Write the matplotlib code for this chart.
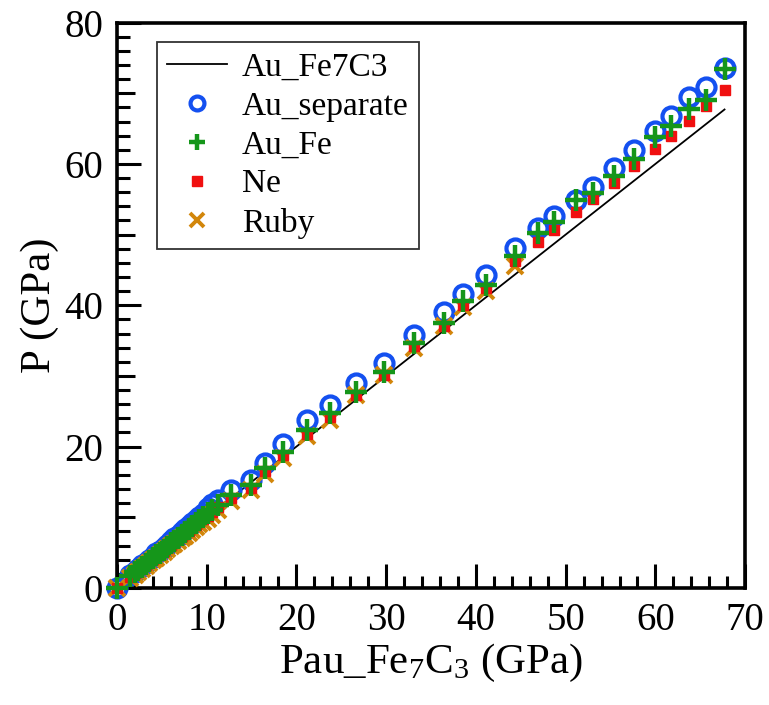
import matplotlib
matplotlib.use("Agg")
import matplotlib.pyplot as plt
from matplotlib.ticker import MultipleLocator

plt.rcParams['font.family'] = ['Liberation Serif', 'DejaVu Serif']
plt.rcParams['mathtext.fontset'] = 'custom'
plt.rcParams['mathtext.rm'] = 'Liberation Serif'
plt.rcParams['mathtext.it'] = 'Liberation Serif:italic'

# Pau_Fe7C3 pressures (GPa), shared x for every series
p_au_fe7c3 = [0.0, 1.5, 2.0, 2.4, 2.8, 3.2, 3.6, 4.0, 4.4, 4.8, 5.2, 5.6, 6.0,
              6.4, 6.8, 7.2, 7.6, 8.0, 8.4, 8.8, 9.2, 9.6,
              10.1, 10.6, 11.3, 12.7, 14.9, 16.5, 18.5, 21.2, 23.7,
              26.6, 29.8, 33.1, 36.4, 38.6, 41.1, 44.4, 46.9, 48.7, 51.2,
              53.0, 55.4, 57.6, 60.0, 61.7, 63.7, 65.6, 67.7]

p_au_separate = [0.0, 1.8, 2.3, 2.7, 3.2, 3.6, 4.0, 4.4, 4.9, 5.3, 5.7, 6.1, 6.6,
                 7.0, 7.4, 7.9, 8.3, 8.8, 9.2, 9.6, 10.1, 10.5,
                 11.3, 11.9, 12.5, 13.8, 15.3, 17.7, 20.4, 23.8, 25.9,
                 29.0, 31.8, 35.8, 39.1, 41.6, 44.3, 48.1, 50.9, 52.7, 54.9,
                 56.8, 59.4, 62.0, 64.6, 66.8, 69.4, 70.9, 73.5]

p_au_fe = [0.0, 1.7, 2.2, 2.6, 3.0, 3.4, 3.8, 4.2, 4.6, 5.0, 5.4, 5.8, 6.3,
           6.7, 7.1, 7.5, 7.9, 8.4, 8.8, 9.2, 9.6, 10.0,
           10.6, 11.1, 11.8, 13.2, 14.6, 17.0, 19.3, 22.4, 24.7,
           27.7, 30.6, 34.7, 37.5, 40.6, 42.9, 46.9, 50.2, 51.8, 54.9,
           55.9, 58.3, 60.7, 63.8, 65.3, 67.7, 69.0, 73.4]

p_ne = [0.0, 1.6, 2.1, 2.5, 2.9, 3.3, 3.7, 4.1, 4.5, 4.9, 5.3, 5.7, 6.1,
        6.5, 6.9, 7.3, 7.7, 8.1, 8.5, 8.9, 9.3, 9.7,
        10.2, 10.7, 11.4, 12.7, 14.2, 16.5, 18.8, 21.8, 24.2,
        27.3, 30.2, 34.2, 37.0, 40.0, 42.4, 46.3, 48.9, 50.6, 53.2,
        55.0, 57.3, 59.7, 62.1, 64.0, 66.1, 68.2, 70.4]

# ruby only measured up to ~44 GPa
p_ruby_x = p_au_fe7c3[:38]
p_ruby = [0.0, 1.4, 1.9, 2.3, 2.7, 3.1, 3.5, 3.9, 4.3, 4.7, 5.1, 5.5, 5.9,
          6.2, 6.6, 7.0, 7.4, 7.8, 8.2, 8.6, 9.0, 9.4,
          9.8, 10.3, 11.0, 12.3, 13.8, 16.1, 18.4, 21.5, 23.8,
          27.3, 30.2, 33.9, 37.0, 39.7, 42.0, 45.5]

fig = plt.figure(figsize=(7.69, 7.05), dpi=100)
ax = fig.add_axes([0.152, 0.166, 0.817, 0.802])

ax.plot(p_au_fe7c3, p_au_fe7c3, color='black', lw=1.3, label='Au_Fe7C3', zorder=2)
ax.plot(p_au_fe7c3, p_au_separate, ls='none', marker='o', ms=13, mfc='none',
        mec='#1450F0', mew=3.0, label='Au_separate', clip_on=False, zorder=3)
ax.plot(p_au_fe7c3, p_au_fe, ls='none', marker='+', ms=16, mec='#15961A',
        mew=3.2, label='Au_Fe', clip_on=False, zorder=6)
ax.plot(p_au_fe7c3, p_ne, ls='none', marker='s', ms=7, mfc='#F01010',
        mec='#F01010', label='Ne', clip_on=False, zorder=5)
ax.plot(p_ruby_x, p_ruby, ls='none', marker='x', ms=11, mec='#D2860A',
        mew=2.8, label='Ruby', clip_on=False, zorder=4)

ax.set_xlim(0, 70)
ax.set_ylim(0, 80)
ax.xaxis.set_major_locator(MultipleLocator(10))
ax.xaxis.set_minor_locator(MultipleLocator(2))
ax.yaxis.set_major_locator(MultipleLocator(20))
ax.yaxis.set_minor_locator(MultipleLocator(2))
ax.tick_params(which='both', direction='in', top=False, right=False, width=2.2,
               labelsize=28)
ax.tick_params(which='major', length=17, pad=10)
ax.tick_params(which='minor', length=9)
for s in ax.spines.values():
    s.set_linewidth(2.6)

ax.set_xlabel(r'Pau_Fe$_7$C$_3$ (GPa)', fontsize=31, labelpad=2)
ax.set_ylabel('P (GPa)', fontsize=31, labelpad=4)

leg = ax.legend(loc='upper left', bbox_to_anchor=(0.064, 0.965), borderaxespad=0,
                fontsize=24, frameon=True, fancybox=False, edgecolor='black',
                handlelength=1.8, handletextpad=0.45, labelspacing=0.25,
                borderpad=0.3)
leg.get_frame().set_linewidth(1.3)
for h, ms in zip(leg.legend_handles, [None, 10, 12, 6.5, 10]):
    if ms is not None:
        h.set_markersize(ms)

fig.canvas.draw()
# medium length ticks halfway between the y majors
for t in ax.yaxis.get_minor_ticks():
    if abs(t.get_loc() % 20 - 10) < 1e-6:
        t.tick1line.set_markersize(13)

fig.savefig('out.png', dpi=100)
